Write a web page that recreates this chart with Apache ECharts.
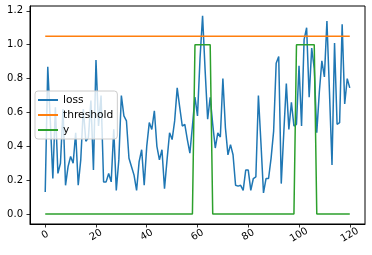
<!DOCTYPE html>
<html><head><meta charset="utf-8">
<script src="https://cdn.jsdelivr.net/npm/echarts@6/dist/echarts.min.js"></script>
<style>html,body{margin:0;padding:0;background:#fff}#c{width:372px;height:255px}</style>
</head><body><div id="c"></div>
<script>
const loss = [0.13,0.87,0.55,0.21,0.63,0.24,0.30,0.62,0.17,0.28,
0.34,0.30,0.48,0.17,0.32,0.62,0.43,0.45,0.67,0.26,
0.91,0.52,0.70,0.19,0.19,0.24,0.19,0.50,0.14,0.32,
0.70,0.58,0.55,0.33,0.28,0.23,0.14,0.31,0.38,0.17,
0.40,0.54,0.50,0.61,0.40,0.32,0.38,0.15,0.32,0.48,
0.44,0.55,0.745,0.63,0.52,0.53,0.44,0.36,0.52,0.69,
0.58,0.92,1.17,0.85,0.56,0.69,0.53,0.39,0.48,0.455,
0.80,0.51,0.35,0.41,0.35,0.17,0.165,0.17,0.14,0.26,
0.26,0.14,0.21,0.22,0.70,0.42,0.125,0.21,0.21,0.33,
0.49,0.89,0.93,0.18,0.48,0.77,0.50,0.66,0.52,0.53,
0.875,0.52,1.03,1.10,0.69,0.98,0.86,0.48,0.72,0.905,
0.81,1.14,0.72,0.29,1.01,0.53,0.54,1.12,0.65,0.80,0.745];
const threshold = [1.05,1.05,1.05,1.05,1.05,1.05,1.05,1.05,1.05,1.05,
1.05,1.05,1.05,1.05,1.05,1.05,1.05,1.05,1.05,1.05,
1.05,1.05,1.05,1.05,1.05,1.05,1.05,1.05,1.05,1.05,
1.05,1.05,1.05,1.05,1.05,1.05,1.05,1.05,1.05,1.05,
1.05,1.05,1.05,1.05,1.05,1.05,1.05,1.05,1.05,1.05,
1.05,1.05,1.05,1.05,1.05,1.05,1.05,1.05,1.05,1.05,
1.05,1.05,1.05,1.05,1.05,1.05,1.05,1.05,1.05,1.05,
1.05,1.05,1.05,1.05,1.05,1.05,1.05,1.05,1.05,1.05,
1.05,1.05,1.05,1.05,1.05,1.05,1.05,1.05,1.05,1.05,
1.05,1.05,1.05,1.05,1.05,1.05,1.05,1.05,1.05,1.05,
1.05,1.05,1.05,1.05,1.05,1.05,1.05,1.05,1.05,1.05,
1.05,1.05,1.05,1.05,1.05,1.05,1.05,1.05,1.05,1.05,1.05];
const yLabel = [0,0,0,0,0,0,0,0,0,0,
0,0,0,0,0,0,0,0,0,0,
0,0,0,0,0,0,0,0,0,0,
0,0,0,0,0,0,0,0,0,0,
0,0,0,0,0,0,0,0,0,0,
0,0,0,0,0,0,0,0,0,1,
1,1,1,1,1,1,0,0,0,0,
0,0,0,0,0,0,0,0,0,0,
0,0,0,0,0,0,0,0,0,0,
0,0,0,0,0,0,0,0,0,1,
1,1,1,1,1,1,1,0,0,0,
0,0,0,0,0,0,0,0,0,0,0];
const xTicks = [0,20,40,60,80,100,120];
const yTicks = [0,0.2,0.4,0.6,0.8,1.0,1.2];
const seriesNames = ['loss','threshold','y'];
const colors = ['#1f77b4','#ff7f0e','#2ca02c'];

const pairs = arr => arr.map((v,i)=>[i,v]);
const font = {fontFamily:'DejaVu Sans', fontSize:10, color:'#000'};
const chart = echarts.init(document.getElementById('c'), null, {renderer:'canvas'});
chart.setOption({
  animation:false,
  grid:{left:30,right:7,top:6,bottom:31,show:true,borderColor:'#000',borderWidth:1,backgroundColor:'transparent'},
  legend:{
    orient:'vertical', left:35, top:91,
    data: seriesNames.map(n=>({name:n, icon:'rect'})),
    itemWidth:20, itemHeight:2, itemGap:3, itemTextGap:8,
    padding:[3,4,3,3],
    backgroundColor:'rgba(255,255,255,0.8)', borderColor:'#cccccc', borderWidth:1, borderRadius:3,
    textStyle:{fontFamily:'DejaVu Sans', fontSize:10.7, color:'#000', lineHeight:12}
  },
  xAxis:{
    type:'value', min:-6, max:126,
    splitLine:{show:false},
    axisLine:{show:true,onZero:false,lineStyle:{color:'#000',width:1}},
    axisTick:{show:true,length:3.5,customValues:xTicks,lineStyle:{color:'#000',width:0.8}},
    axisLabel:Object.assign({customValues:xTicks,rotate:30,margin:11,align:'center',verticalAlign:'middle'},font)
  },
  yAxis:{
    type:'value', min:-0.0585, max:1.2285,
    splitLine:{show:false},
    axisLine:{show:true,onZero:false,lineStyle:{color:'#000',width:1}},
    axisTick:{show:true,length:3.5,customValues:yTicks,lineStyle:{color:'#000',width:0.8}},
    axisLabel:Object.assign({customValues:yTicks,margin:7,formatter:v=>v.toFixed(1)},font)
  },
  series:[
    {name:seriesNames[0],type:'line',data:pairs(loss),symbol:'none',lineStyle:{color:colors[0],width:1.5},itemStyle:{color:colors[0]}},
    {name:seriesNames[1],type:'line',data:pairs(threshold),symbol:'none',lineStyle:{color:colors[1],width:1.5},itemStyle:{color:colors[1]}},
    {name:seriesNames[2],type:'line',data:pairs(yLabel),symbol:'none',lineStyle:{color:colors[2],width:1.5},itemStyle:{color:colors[2]}}
  ]
});
</script></body></html>
